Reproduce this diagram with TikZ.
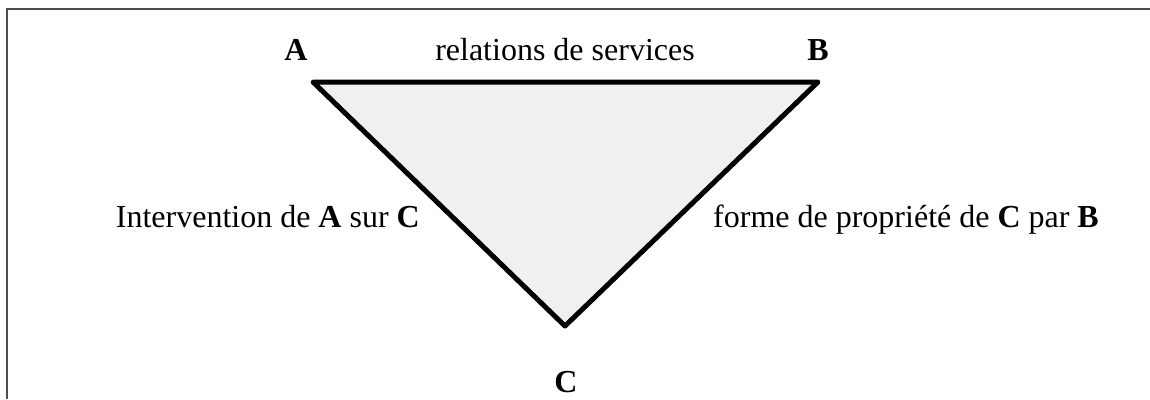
\documentclass[tikz,border=0pt]{standalone}
\usepackage{fontspec}
\setmainfont{Liberation Serif}
\begin{document}
\begin{tikzpicture}[x=1pt,y=-1pt,
  lbl/.style={inner sep=0pt,font=\fontsize{32}{36}\selectfont},
  tri/.style={line width=5pt,line join=round,fill=black!6,draw=black}]
\useasboundingbox (0,0) rectangle (1150,399);
\draw[line width=2pt,black!70] (7,399) -- (7,9) -- (1150,9);
\coordinate (A) at (313,82);
\coordinate (B) at (818,82);
\coordinate (C) at (565,326);
\draw[tri] (A) -- (B) -- (C) -- cycle;
\node[lbl,anchor=base] (la) at (296,60) {\textbf{A}};
\node[lbl,anchor=base] (lb) at (818,60) {\textbf{B}};
\node[lbl,anchor=base] (lr) at (565,60) {relations de services};
\node[lbl,anchor=base] (lc) at (566,392) {\textbf{C}};
\node[lbl,anchor=base east] (li) at (420,227) {Intervention de \textbf{A} sur \textbf{C}};
\node[lbl,anchor=base west] (lf) at (713,227) {forme de propriété de \textbf{C} par \textbf{B}};
\end{tikzpicture}
\end{document}
